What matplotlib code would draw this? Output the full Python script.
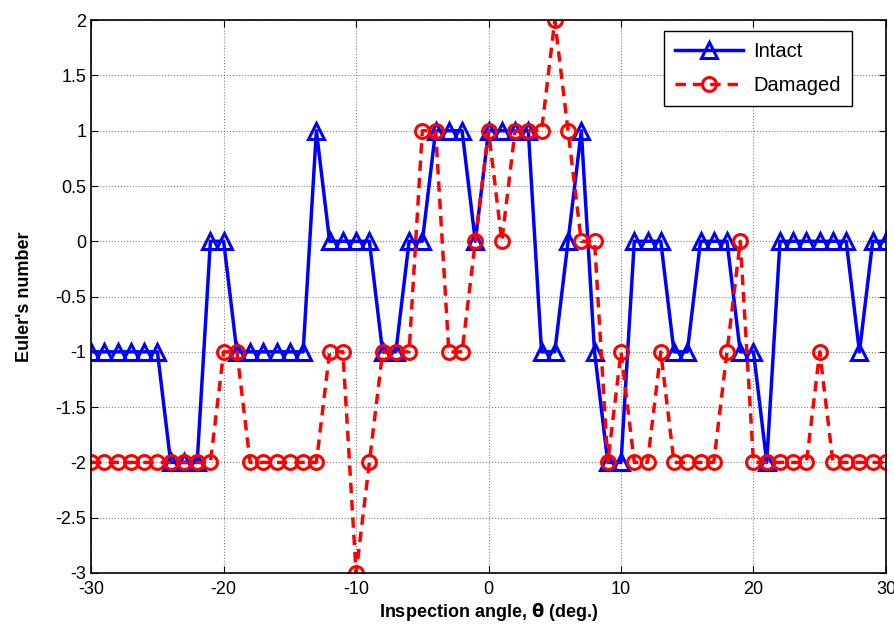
import numpy as np
import matplotlib.pyplot as plt

plt.rcParams['font.family'] = ['Liberation Sans', 'DejaVu Sans']
plt.rcParams['axes.unicode_minus'] = False

angle = np.arange(-30, 31)
intact = [-1, -1, -1, -1, -1, -1, -2, -2, -2, 0,
          0, -1, -1, -1, -1, -1, -1, 1, 0, 0,
          0, 0, -1, -1, 0, 0, 1, 1, 1, 0,
          1, 1, 1, 1, -1, -1, 0, 1, -1, -2,
          -2, 0, 0, 0, -1, -1, 0, 0, 0, -1,
          -1, -2, 0, 0, 0, 0, 0, 0, -1, 0,
          0]
damaged = [-2, -2, -2, -2, -2, -2, -2, -2, -2, -2,
           -1, -1, -2, -2, -2, -2, -2, -2, -1, -1,
           -3, -2, -1, -1, -1, 1, 1, -1, -1, 0,
           1, 0, 1, 1, 1, 2, 1, 0, 0, -2,
           -1, -2, -2, -1, -2, -2, -2, -2, -1, 0,
           -2, -2, -2, -2, -2, -1, -2, -2, -2, -2,
           -2]

fig = plt.figure(figsize=(8.94, 6.31), dpi=100)
ax = fig.add_axes([0.102, 0.092, 0.889, 0.876])

ax.plot(angle, intact, '-^', color='blue', lw=2.5, ms=11, mfc='none', mew=2.2,
        label='Intact')
ax.plot(angle, damaged, '--o', color='red', lw=2.5, ms=10, mfc='none', mew=2.2,
        label='Damaged', dashes=(3, 2))

ax.set_xlim(-30, 30)
ax.set_ylim(-3, 2)
ax.set_xticks(np.arange(-30, 31, 10))
ax.set_yticks(np.arange(-3, 2.01, 0.5))
ax.set_yticklabels(['-3', '-2.5', '-2', '-1.5', '-1', '-0.5', '0', '0.5', '1', '1.5', '2'])
ax.tick_params(direction='in', top=True, right=True, labelsize=13, length=5)
ax.tick_params(axis='x', pad=6)
ax.grid(True, color='gray', linestyle=':', linewidth=0.8)
for s in ax.spines.values():
    s.set_linewidth(1.2)

ax.set_xlabel(r"Inspection angle, $\mathbf{\theta}$ (deg.)", fontsize=13, fontweight='bold', labelpad=2)
ax.set_ylabel("Euler's number", fontsize=13, fontweight='bold', labelpad=16)

leg = ax.legend(loc='upper right', bbox_to_anchor=(0.957, 0.981), fontsize=14.5,
                fancybox=False, framealpha=1, edgecolor='black', handlelength=3.4,
                labelspacing=0.75, borderpad=0.55, handletextpad=0.5, borderaxespad=0)
leg.get_frame().set_linewidth(1.0)

fig.savefig('out.png', dpi=100)
